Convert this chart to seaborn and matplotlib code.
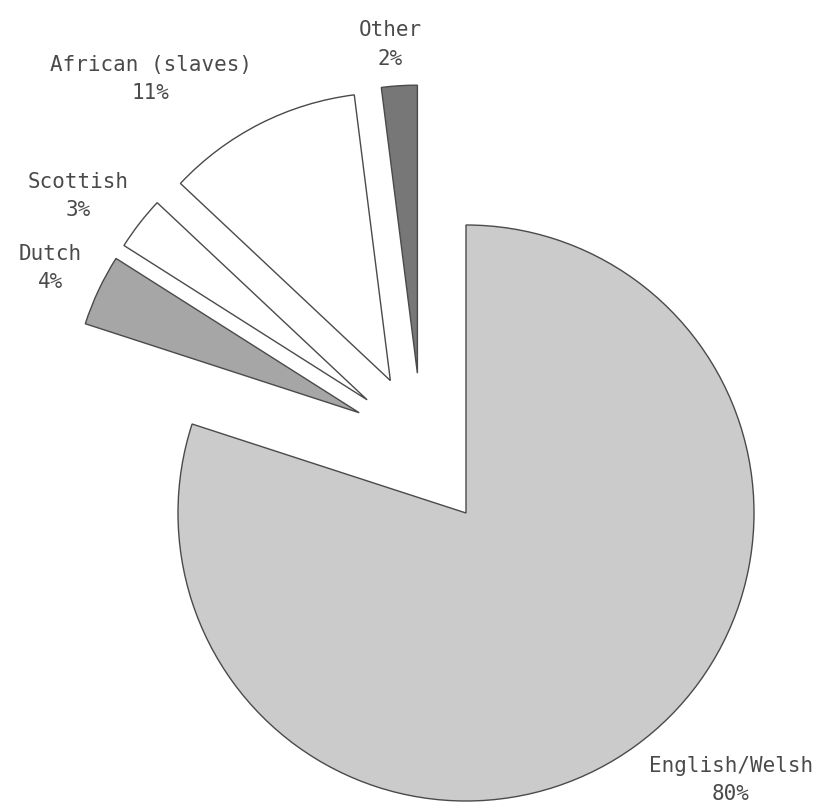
import matplotlib
matplotlib.use('Agg')
import matplotlib.pyplot as plt
import seaborn as sns
import numpy as np

# Ancestry shares (percent), drawn clockwise from 12 o'clock
groups = ['English/Welsh', 'Dutch', 'Scottish', 'African (slaves)', 'Other']
shares = [80, 4, 3, 11, 2]
fills = ['#cbcbcb', '#a6a6a6', '#ffffff', '#ffffff', '#777777']

# label anchors in axes data units (pie radius = 1)
label_x = [0.92, -1.444, -1.347, -1.094, -0.264]
label_y = [-0.927, 0.851, 1.101, 1.507, 1.628]

sns.set_theme(style='white')
plt.rcParams['font.family'] = ['DejaVu Sans Mono', 'DejaVu Sans']

fig = plt.figure(figsize=(8.22, 8.08), dpi=100)
ax = fig.add_axes([0, 0, 1, 1])

edge = dict(edgecolor='#4a4a4a', linewidth=1.0)

# the big slice stays in place
main, _ = ax.pie(shares, colors=fills, startangle=90, counterclock=False,
                 wedgeprops=edge)
for w in main[1:]:
    w.set_visible(False)

# the small slices are pulled out as a group, then spread a little
shift = 0.29
ang = np.deg2rad(122)
small, _ = ax.pie(shares, colors=fills, startangle=90, counterclock=False,
                  explode=[0, 0.24, 0.24, 0.24, 0.24],
                  center=(shift * np.cos(ang), shift * np.sin(ang)),
                  wedgeprops=edge)
small[0].set_visible(False)

for name, val, x, y in zip(groups, shares, label_x, label_y):
    ax.text(x, y, f"{name}\n{val}%", ha='center', va='center',
            multialignment='center', fontsize=15, color='#4a4a4a',
            linespacing=1.55)

ax.set_xlim(-466 / 288, (822 - 466) / 288)
ax.set_ylim(-(808 - 513) / 288, 513 / 288)
ax.set_aspect('equal', adjustable='datalim')
ax.axis('off')

fig.savefig('out.png', dpi=100)
